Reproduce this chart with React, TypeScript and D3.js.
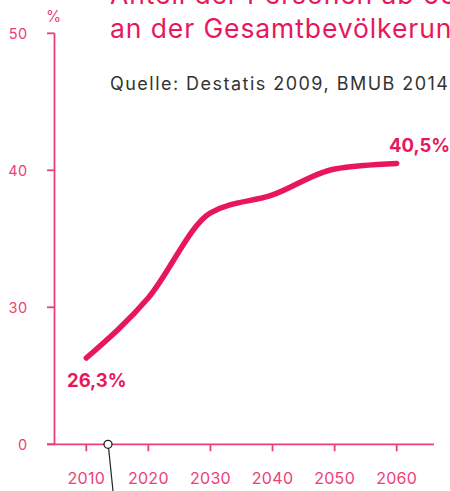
import React from 'react';
import * as d3 from 'd3';

// share of people 65+ in the total population, %
const years = [2010, 2020, 2030, 2040, 2050, 2060];
const values = [26.3, 30.7, 36.9, 38.2, 40.1, 40.5];
const yTicks = [20, 30, 40, 50]; // axis is broken: the bottom tick is shown as 0
const titleLines = ['Anteil der Personen ab 65 Jahren', 'an der Gesamtbevölkerung'];
const source = 'Quelle: Destatis 2009, BMUB 2014';
const firstLabel = '26,3%';
const lastLabel = '40,5%';

const pink = '#e8175d';
const axisPink = '#ec3f76';
const font = 'Inter, "Noto Sans", sans-serif';

export default function App() {
    const width = 450;
    const height = 491;

    const x = d3.scaleLinear().domain([2010, 2060]).range([86.3, 396.7]);
    const y = d3.scaleLinear().domain([20, 50]).range([444.3, 33.3]);

    const axisX = 54.5;
    const line = d3.line<number>()
        .x((d, i) => x(years[i]))
        .y(d => y(d))
        .curve(d3.curveMonotoneX);

    const fmt = (v: number) => (v === 20 ? '0' : String(v));

    return (
        <svg width={width} height={height} style={{ position: 'absolute', left: 0, top: 0 }}>
            <rect width={width} height={height} fill="#fff" />

            {/* title, runs past the right edge as in the layout */}
            {titleLines.map((t, i) => (
                <text key={t} x={110} y={3.5 + i * 34.2} fontFamily={font} fontSize={26.5}
                    letterSpacing={0.9} fill={pink}>{t}</text>
            ))}
            <text x={110} y={90} fontFamily={font} fontSize={18} fill="#333"
                textLength={338} lengthAdjust="spacing">{source}</text>

            {/* y axis */}
            <text x={53.5} y={21.5} fontFamily={font} fontSize={15.5} fill={axisPink}
                textAnchor="middle">%</text>
            <line x1={axisX} x2={axisX} y1={y(50)} y2={y(20)} stroke={axisPink} strokeWidth={1.8} />
            {yTicks.map(t => (
                <g key={t}>
                    <line x1={47} x2={axisX} y1={y(t)} y2={y(t)} stroke={axisPink} strokeWidth={1.8} />
                    <text x={27.5} y={y(t) + 5.3} fontFamily={font} fontSize={14.5} fill={axisPink}
                        textAnchor="end" letterSpacing={0.4}>{fmt(t)}</text>
                </g>
            ))}

            {/* x axis */}
            <line x1={47} x2={434} y1={y(20)} y2={y(20)} stroke={axisPink} strokeWidth={1.8} />
            {years.map(yr => (
                <g key={yr}>
                    <line x1={x(yr)} x2={x(yr)} y1={y(20)} y2={y(20) + 7} stroke={axisPink} strokeWidth={1.8} />
                    <text x={x(yr)} y={484.3} fontFamily={font} fontSize={16} fill={axisPink}
                        textAnchor="middle" letterSpacing={0.3}>{yr}</text>
                </g>
            ))}

            {/* data line */}
            <path d={line(values) || ''} fill="none" stroke={pink} strokeWidth={5.5}
                strokeLinecap="round" strokeLinejoin="round" />
            <text x={67} y={386.7} fontFamily={font} fontSize={18.5} fontWeight={700}
                fill={pink}>{firstLabel}</text>
            <text x={389} y={152.3} fontFamily={font} fontSize={18.5} fontWeight={700}
                fill={pink}>{lastLabel}</text>

            {/* annotation pointer */}
            <line x1={108.6} y1={448.3} x2={113} y2={491} stroke="#222" strokeWidth={1.2} />
            <circle cx={108} cy={y(20)} r={4} fill="#fff" stroke="#222" strokeWidth={1.3} />
        </svg>
    );
}
